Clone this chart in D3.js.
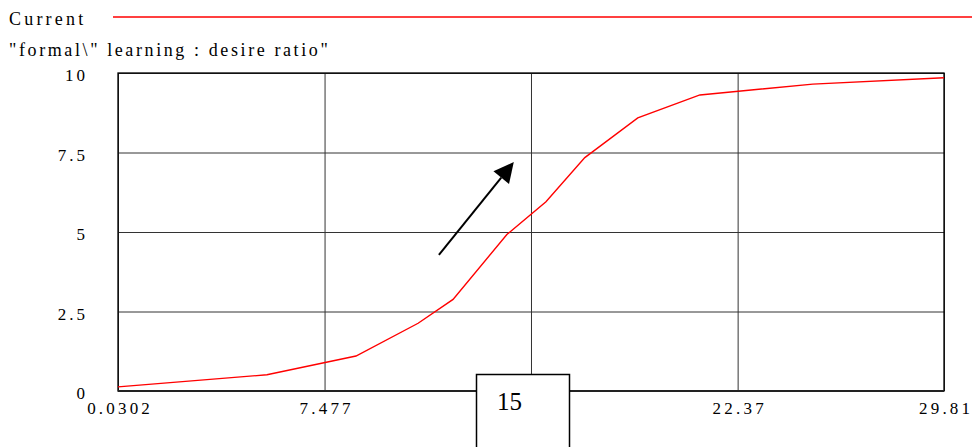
<!DOCTYPE html>
<html>
<head>
<meta charset="utf-8">
<script src="https://cdn.jsdelivr.net/npm/d3@7"></script>
<style>
  body { margin: 0; background: #fff; }
  svg { display: block; }
  text { font-family: "Liberation Serif", "Times New Roman", serif; fill: #000; }
</style>
</head>
<body>
<div id="chart"></div>
<script>
var xValues = [0.0302, 5.40, 8.61, 10.85, 12.11, 14.05, 15.46, 16.86, 18.77, 21.01, 25.08, 29.81];
var yValues = [0.13, 0.51, 1.10, 2.13, 2.88, 4.92, 5.95, 7.34, 8.59, 9.31, 9.65, 9.85];
var xTicks = [0.0302, 7.477, 14.92, 22.37, 29.81];
// middle label sits under the slider box, so it is blank
var xTickLabels = ['0.0302', '7.477', '', '22.37', '29.81'];
var yTicks = [0, 2.5, 5, 7.5, 10];
var yTickLabels = ['0', '2.5', '5', '7.5', '10'];
var seriesName = 'Current';
var yTitle = '"formal\\" learning : desire ratio"';
var sliderValue = '15';
var arrowFrom = [11.6, 4.28];
var arrowTo = [14.3, 7.2];

var chartWidth = 972;
var chartHeight = 447;
var plotLeft = 118, plotRight = 944, plotTop = 73, plotBottom = 391;
var serif = '"Liberation Serif", "Times New Roman", serif';

var svg = d3.select('#chart')
    .append('svg')
    .attr('width', chartWidth)
    .attr('height', chartHeight);

// Scales
var scaleX = d3.scaleLinear()
    .domain([xTicks[0], xTicks[xTicks.length - 1]])
    .range([plotLeft, plotRight]);

var scaleY = d3.scaleLinear()
    .domain([0, 10])
    .range([plotBottom, plotTop]);

// Legend
svg.append('text')
    .attr('x', 9)
    .attr('y', 25)
    .attr('font-size', 18)
    .attr('letter-spacing', 3.2)
    .text(seriesName);

svg.append('line')
    .attr('x1', 113)
    .attr('x2', chartWidth)
    .attr('y1', 17)
    .attr('y2', 17)
    .attr('stroke', 'red')
    .attr('stroke-width', 1.5);

svg.append('text')
    .attr('x', 9)
    .attr('y', 56)
    .attr('font-size', 18)
    .attr('letter-spacing', 2.6)
    .text(yTitle);

// Grid + axes
var axisX = d3.axisBottom(scaleX)
    .tickValues(xTicks)
    .tickFormat(function(d, i) { return xTickLabels[i]; })
    .tickSize(-(plotBottom - plotTop))
    .tickPadding(8);

var gx = svg.append('g')
    .attr('class', 'x-axis')
    .attr('transform', 'translate(0,' + plotBottom + ')')
    .call(axisX)
    .attr('font-family', serif);
gx.select('.domain').remove();
gx.selectAll('line').attr('stroke', '#333').attr('stroke-width', 1);
gx.selectAll('text')
    .attr('font-size', 17)
    .attr('letter-spacing', 3.2)
    .attr('dx', 1.6)
    .attr('y', 23)
    .attr('dy', 0);

var axisY = d3.axisLeft(scaleY)
    .tickValues(yTicks)
    .tickFormat(function(d, i) { return yTickLabels[i]; })
    .tickSize(-(plotRight - plotLeft))
    .tickPadding(30);

var gy = svg.append('g')
    .attr('class', 'y-axis')
    .attr('transform', 'translate(' + plotLeft + ',0)')
    .call(axisY)
    .attr('font-family', serif);
gy.select('.domain').remove();
gy.selectAll('line').attr('stroke', '#333').attr('stroke-width', 1);
gy.selectAll('text')
    .attr('font-size', 17)
    .attr('letter-spacing', 3)
    .attr('dy', '0.45em');

// Frame
svg.append('rect')
    .attr('x', plotLeft)
    .attr('y', plotTop)
    .attr('width', plotRight - plotLeft)
    .attr('height', plotBottom - plotTop)
    .attr('fill', 'none')
    .attr('stroke', '#000')
    .attr('stroke-width', 1.3);

svg.append('line')
    .attr('x1', plotLeft).attr('x2', plotRight)
    .attr('y1', plotBottom).attr('y2', plotBottom)
    .attr('stroke', '#222')
    .attr('stroke-width', 2);

// Series line
var points = xValues.map(function(x, i) { return [x, yValues[i]]; });
svg.append('path')
    .datum(points)
    .attr('fill', 'none')
    .attr('stroke', 'red')
    .attr('stroke-width', 1.4)
    .attr('d', d3.line()
        .x(function(d) { return scaleX(d[0]); })
        .y(function(d) { return scaleY(d[1]); }));

// Arrow annotation
var ax0 = scaleX(arrowFrom[0]), ay0 = scaleY(arrowFrom[1]);
var ax1 = scaleX(arrowTo[0]), ay1 = scaleY(arrowTo[1]);
var len = Math.hypot(ax1 - ax0, ay1 - ay0);
var ux = (ax1 - ax0) / len, uy = (ay1 - ay0) / len;
var headLen = 20, headHalf = 10;
var bx = ax1 - ux * headLen, by = ay1 - uy * headLen;

svg.append('line')
    .attr('x1', ax0).attr('y1', ay0)
    .attr('x2', bx).attr('y2', by)
    .attr('stroke', '#000')
    .attr('stroke-width', 2);

svg.append('path')
    .attr('d', 'M' + ax1 + ',' + ay1 +
        'L' + (bx - uy * headHalf) + ',' + (by + ux * headHalf) +
        'L' + (bx + uy * headHalf) + ',' + (by - ux * headHalf) + 'Z')
    .attr('fill', '#000');

// Slider value box
svg.append('rect')
    .attr('x', 476.5)
    .attr('y', 374.5)
    .attr('width', 93)
    .attr('height', 80)
    .attr('fill', '#fff')
    .attr('stroke', '#000')
    .attr('stroke-width', 1.5);

svg.append('text')
    .attr('x', 509.5)
    .attr('y', 410)
    .attr('text-anchor', 'middle')
    .attr('font-size', 25)
    .text(sliderValue);
</script>
</body>
</html>
